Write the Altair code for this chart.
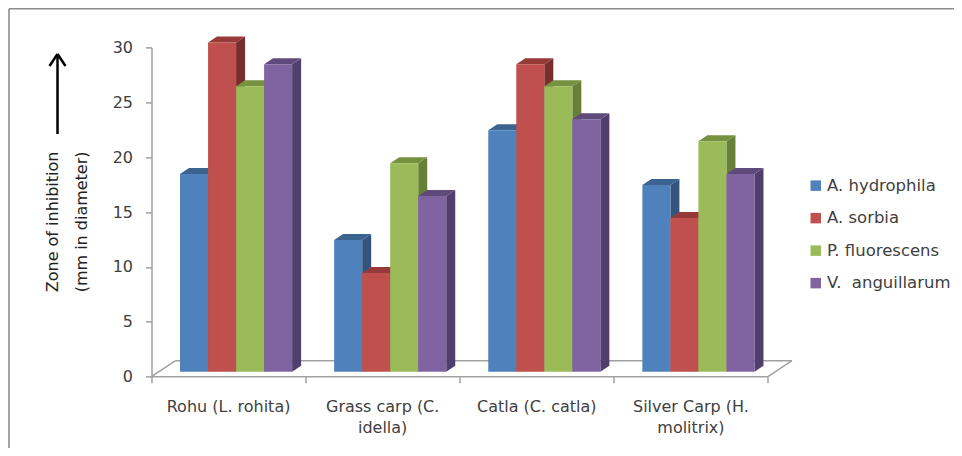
import altair as alt
import pandas as pd

categories = ["Rohu", "Grass carp", "Catla", "Silver Carp"]
label_line1 = ["Rohu (L. rohita)", "Grass carp (C.", "Catla (C. catla)", "Silver Carp (H."]
label_line2 = ["", "idella)", "", "molitrix)"]
series = ["A. hydrophila", "A. sorbia", "P. fluorescens", "V.\u00a0 anguillarum"]
values = {
    "A. hydrophila": [18, 12, 22, 17],
    "A. sorbia": [30, 9, 28, 14],
    "P. fluorescens": [26, 19, 26, 21],
    "V.\u00a0 anguillarum": [28, 16, 23, 18],
}
front_colors = ["#4F81BD", "#C0504D", "#9BBB59", "#8064A2"]
top_colors = ["#3A6390", "#953A38", "#76913F", "#5F4A7C"]
side_colors = ["#33557D", "#772E2C", "#687F38", "#503F6C"]

GROUP_PX = 154.0
UNIT_PX = 329.3 / 30
BAR = 28.0 / GROUP_PX
START = 28.5 / GROUP_PX
DX = 9.0 / GROUP_PX
DY = 6.0 / UNIT_PX
LIFT = 5.0 / UNIT_PX
FX = 24.0 / GROUP_PX
FY = 16.0 / UNIT_PX
GRAY = "#A0A0A0"
FONT = "DejaVu Sans"
TEXT = "#404040"

x_scale = alt.Scale(domain=[0, 4 + FX], nice=False, zero=False)
y_scale = alt.Scale(domain=[0, 30], nice=False, zero=False)
X = alt.X("x:Q", scale=x_scale, title=None,
          axis=alt.Axis(values=[0, 1, 2, 3, 4], labels=False, domain=False, grid=False,
                        tickColor=GRAY, tickWidth=1.5, tickSize=6))
Y = alt.Y("y:Q", scale=y_scale,
          title=["Zone of inhibition", "(mm in diameter)"],
          axis=alt.Axis(values=[0, 5, 10, 15, 20, 25, 30], grid=False,
                        domainColor=GRAY, domainWidth=1.5, tickColor=GRAY, tickWidth=1.5, tickSize=6,
                        labelFont=FONT, labelFontSize=16, labelColor=TEXT, labelPadding=13,
                        titleFont=FONT, titleFontSize=16, titleFontWeight="normal", titleColor="#222222",
                        titleLineHeight=29, titleX=-91, titleY=174, titleAnchor="middle"))

floor_rows = [
    {"edge": "front", "x": 0, "y": 0}, {"edge": "front", "x": 4, "y": 0},
    {"edge": "back", "x": FX, "y": FY}, {"edge": "back", "x": 4 + FX, "y": FY},
    {"edge": "left", "x": 0, "y": 0}, {"edge": "left", "x": FX, "y": FY},
    {"edge": "right", "x": 4, "y": 0}, {"edge": "right", "x": 4 + FX, "y": FY},
]
floor = alt.Chart(pd.DataFrame(floor_rows)).mark_line(color=GRAY, strokeWidth=1.5).encode(
    x=X, y=Y, detail="edge:N")

layers = [floor]
for si, name in enumerate(series):
    front, side, top = [], [], []
    for ci, v in enumerate(values[name]):
        l = ci + START + si * BAR
        r = l + BAR
        base = LIFT
        t = v + LIFT
        front.append({"x": l, "x2": r, "y": base, "y2": t, "series": name})
        side += [{"x": r, "y": t, "y2": base, "c": ci}, {"x": r + DX, "y": t + DY, "y2": base + DY, "c": ci}]
        top += [{"y": t, "x": l, "x2": r, "c": ci}, {"y": t + DY, "x": l + DX, "x2": r + DX, "c": ci}]
    layers.append(alt.Chart(pd.DataFrame(side)).mark_area(color=side_colors[si], orient="vertical").encode(
        x=alt.X("x:Q", scale=x_scale), y=alt.Y("y:Q", scale=y_scale, stack=None), y2="y2:Q", detail="c:N"))
    layers.append(alt.Chart(pd.DataFrame(top)).mark_area(color=top_colors[si], orient="horizontal").encode(
        y=alt.Y("y:Q", scale=y_scale), x=alt.X("x:Q", scale=x_scale, stack=None), x2="x2:Q", detail="c:N"))
    layers.append(alt.Chart(pd.DataFrame(front)).mark_bar().encode(
        x=alt.X("x:Q", scale=x_scale), x2="x2:Q", y=alt.Y("y:Q", scale=y_scale), y2="y2:Q",
        color=alt.Color("series:N", scale=alt.Scale(domain=series, range=front_colors), sort=series,
                        legend=alt.Legend(title=None, orient="none", legendX=656, legendY=130,
                                          symbolType="square", symbolSize=110, symbolStrokeWidth=0,
                                          labelFont=FONT, labelFontSize=16.5, labelColor=TEXT, labelOffset=3,
                                          rowPadding=15.5, labelLimit=200))))

label_rows = []
for i, (a, b) in enumerate(zip(label_line1, label_line2)):
    label_rows.append({"x": i + 0.5, "t": a, "line": 0})
    if b:
        label_rows.append({"x": i + 0.5, "t": b, "line": 1})
labels_df = pd.DataFrame(label_rows)
for line, ypos in [(0, 360), (1, 381)]:
    layers.append(alt.Chart(labels_df[labels_df.line == line]).mark_text(
        font=FONT, fontSize=16, color=TEXT).encode(
        x=alt.X("x:Q", scale=x_scale), y=alt.value(ypos), text="t:N"))

# page frame and arrow annotation
OX, OY = 143.5, 39.4
def px(x): return x - 8 - OX
def py(y): return y - 8 - OY
def seg(x1, y1, x2, y2, color, w):
    return alt.Chart(pd.DataFrame({"a": [0]})).mark_rule(color=color, strokeWidth=w).encode(
        x=alt.value(px(x1)), x2=alt.value(px(x2)), y=alt.value(py(y1)), y2=alt.value(py(y2)))
layers += [
    seg(9, 8.8, 9, 456, "#8C8C8C", 1.6),
    seg(9, 8.8, 962, 8.8, "#8C8C8C", 1.6),
    seg(57.5, 134, 57.5, 55, "#000000", 2.5),
    seg(57.5, 54, 49.5, 66, "#000000", 2.5),
    seg(57.5, 54, 65.5, 66, "#000000", 2.5),
]

chart = alt.layer(*layers).resolve_scale(color="shared").properties(
    width=640.5, height=329.3,
    autosize=alt.AutoSizeParams(type="none"),
    padding={"left": OX, "top": OY, "right": 162, "bottom": 71},
    background="white",
).configure_view(stroke=None)

chart.save("out.html", embed_options={"renderer": "svg", "actions": False})
